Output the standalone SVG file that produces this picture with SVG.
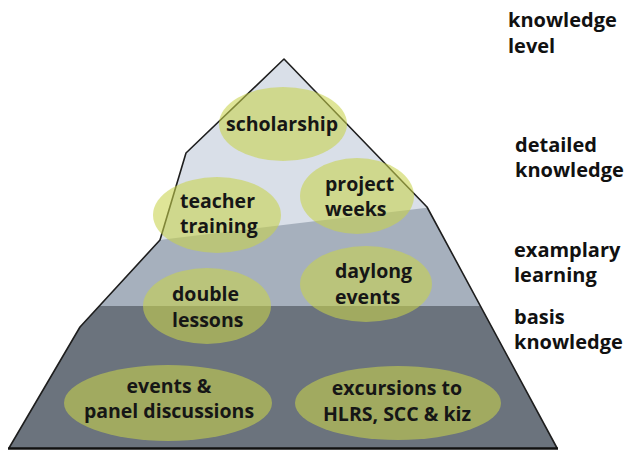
<svg xmlns="http://www.w3.org/2000/svg" width="626" height="451" viewBox="0 0 626 451">
<defs>
<style>
.lbl{font-family:"Open Sans","Liberation Sans",sans-serif;font-size:19.5px;font-weight:700;fill:#161616}
.side{font-family:"Open Sans","Liberation Sans",sans-serif;font-size:20px;font-weight:700;fill:#111}
.ell{fill:#c8d34c;fill-opacity:0.58}
.c{text-anchor:middle}
</style>
<clipPath id="pyr">
<polygon points="284,59 427,207 557,448 9,448 80,327 160,240 186,153"/>
</clipPath>
</defs>
<rect width="626" height="451" fill="#ffffff"/>
<g id="pyramid">
<g clip-path="url(#pyr)">
<rect x="0" y="50" width="626" height="400" fill="#d9dfe8"/>
<polygon points="0,259 626,184 626,451 0,451" fill="#a6b0bd"/>
<rect x="0" y="306" width="626" height="145" fill="#6b737d"/>
</g>
<polyline points="9,448 80,327 160,240 186,153 284,59 427,207 557,448" fill="none" stroke="#1e1e1e" stroke-width="1.6" stroke-linejoin="round"/>
<line x1="8" y1="448.5" x2="558" y2="448.5" stroke="#111" stroke-width="2.5"/>
</g>
<g id="scholarship">
<ellipse class="ell" cx="283" cy="124" rx="64" ry="37"/>
<text class="lbl c" x="282" y="131">scholarship</text>
</g>
<g id="teacher-training">
<ellipse class="ell" cx="217" cy="215" rx="64" ry="38"/>
<text class="lbl" x="180" y="208">teacher<tspan x="180" y="233">training</tspan></text>
</g>
<g id="project-weeks">
<ellipse class="ell" cx="357" cy="196" rx="57" ry="38"/>
<text class="lbl" x="325" y="191">project<tspan x="325" y="216">weeks</tspan></text>
</g>
<g id="double-lessons">
<ellipse class="ell" cx="207" cy="306" rx="64" ry="38"/>
<text class="lbl" x="172" y="301">double<tspan x="172" y="327">lessons</tspan></text>
</g>
<g id="daylong-events">
<ellipse class="ell" cx="366" cy="284" rx="66" ry="38"/>
<text class="lbl" x="335" y="278">daylong<tspan x="335" y="304">events</tspan></text>
</g>
<g id="events-panel">
<ellipse class="ell" cx="168" cy="403" rx="104" ry="38"/>
<text class="lbl c" x="169" y="393">events &amp;<tspan x="169" y="418">panel discussions</tspan></text>
</g>
<g id="excursions">
<ellipse class="ell" cx="398" cy="403" rx="103" ry="37"/>
<text class="lbl c" x="397" y="395">excursions to<tspan x="397" y="421">HLRS, SCC &amp; kiz</tspan></text>
</g>
<g id="levels">
<text class="side" x="508" y="27">knowledge<tspan x="508" y="53">level</tspan></text>
<text class="side" x="515" y="152">detailed<tspan x="515" y="177">knowledge</tspan></text>
<text class="side" x="514" y="257">examplary<tspan x="514" y="282">learning</tspan></text>
<text class="side" x="514" y="324">basis<tspan x="514" y="349">knowledge</tspan></text>
</g>
</svg>
